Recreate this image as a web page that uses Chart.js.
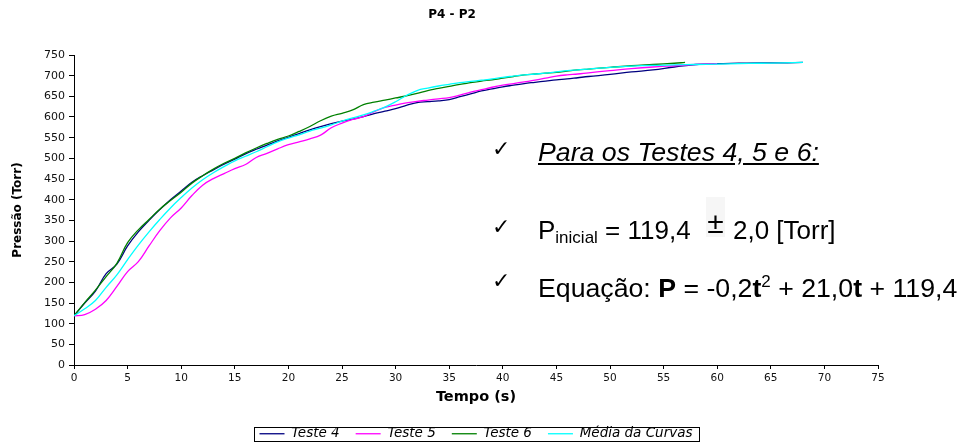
<!DOCTYPE html>
<html>
<head>
<meta charset="utf-8">
<script src="https://cdn.jsdelivr.net/npm/chart.js@4.4.1/dist/chart.umd.min.js"></script>
<style>
  html, body { margin: 0; padding: 0; background: #fff; }
  #wrap { position: relative; width: 964px; height: 446px; overflow: hidden; }
  #wrap canvas { position: absolute; left: 0; top: 0; }
  .note { position: absolute; font-family: "Liberation Sans", Arial, sans-serif; font-size: 26px; line-height: 26px; color: #000; white-space: nowrap; }
  .check { position: absolute; left: 492px; font-family: "DejaVu Sans", sans-serif; font-size: 22px; line-height: 22px; color: #000; }
  .sub { font-size: 17px; vertical-align: -4px; }
  .sup { font-size: 17px; vertical-align: 10px; }
  .pm { position: absolute; left: 706px; top: 197px; width: 19px; height: 40px; background: #f6f6f6; font-family: "Liberation Sans", Arial, sans-serif; font-size: 30px; line-height: 30px; padding-top: 11px; box-sizing: border-box; text-align: center; }
</style>
</head>
<body>
<div id="wrap">
  <canvas id="myChart" width="964" height="446"></canvas>

  <div class="check" style="top:138px">✓</div>
  <div class="note" style="left:538px; top:139px; font-size:26.7px; font-style:italic; text-decoration:underline;">Para os Testes 4, 5 e 6:</div>

  <div class="check" style="top:216px">✓</div>
  <div class="note" style="left:538px; top:217px">P<span class="sub">inicial</span> = 119,4</div>
  <div class="pm">±</div>
  <div class="note" style="left:733px; top:217px">2,0 [Torr]</div>

  <div class="check" style="top:270px">✓</div>
  <div class="note" style="left:538px; top:269px; font-size:26.7px;">Equação: <b>P</b> = -0,2<b>t</b><span class="sup">2</span> + 21,0<b>t</b> + 119,4</div>
</div>

<script>
// series: time (s) and pressure (Torr) for each test
const tempoTeste4 = [0,1,2,3,4,5,6,7,8,9,10,11,12,13,14,15,16,17,18,19,20,21,22,23,24,25,26,27,28,29,30,31,32,33,34,35,36,37,38,39,40,41,42,43,44,45,46,47,48,50,52,54,56,58,60,62,64,66,68];
const pressaoTeste4 = [119,150,179,221,244,288,322,350,376,400,421,442,458,472,486,498,511,522,532,542,551,560,569,577,584,590,595,601,608,614,620,628,635,637,639,642,649,656,663,668,673,677,681,684,687,690,692,695,698,703,709,714,721,727,729,730,731,731,732];

const tempoTeste5 = [0,1,2,3,4,5,6,7,8,9,10,11,12,13,14,15,16,17,18,19,20,21,22,23,24,25,26,27,28,29,30,31,32,33,34,35,36,37,38,39,40,41,42,43,44,45,46,47,48,50,52,54,56,58,60];
const pressaoTeste5 = [119,122,135,156,190,226,250,288,325,356,380,410,435,451,463,475,485,502,512,523,533,540,547,556,574,585,594,601,613,623,629,634,638,641,644,647,653,660,666,672,677,681,685,689,694,699,702,704,707,712,717,721,724,727,729];

const tempoTeste6 = [0,1,2,3,4,5,6,7,8,9,10,11,12,13,14,15,16,17,18,19,20,21,22,23,24,25,26,27,28,29,30,31,32,33,34,35,36,37,38,39,40,41,42,43,44,45,46,47,48,50,52,54,56,57];
const pressaoTeste6 = [119,151,181,214,246,296,327,352,377,398,418,440,458,474,488,500,513,525,536,546,554,565,577,591,602,609,617,630,636,641,646,651,657,664,669,674,679,683,687,690,694,698,702,704,706,708,711,714,716,720,724,727,730,732];

const tempoMedia = [0,1,2,3,4,5,6,7,8,9,10,11,12,13,14,15,16,17,18,19,20,21,22,23,24,25,26,27,28,29,30,31,32,33,34,35,36,37,38,39,40,41,42,43,44,45,46,47,48,50,52,54,56,58,60,62,64,66,68];
const pressaoMedia = [119,136,156,188,218,255,290,322,352,380,405,428,448,465,480,494,505,516,528,540,549,557,566,573,581,590,598,605,614,624,637,652,664,670,675,679,683,686,689,692,696,699,702,704,706,709,712,714,716,720,723,725,726,727,728,729,730,731,732];

const nomesSeries = ['Teste 4', 'Teste 5', 'Teste 6', 'Média da Curvas'];
const coresSeries = ['#000080', '#ff00ff', '#008000', '#00ffff'];
const tituloGrafico = 'P4 - P2';
const tituloX = 'Tempo (s)';
const tituloY = 'Pressão (Torr)';

function toPoints(tempo, pressao) {
    return tempo.map((t, i) => ({ x: t, y: pressao[i] }));
}

const series = [
    toPoints(tempoTeste4, pressaoTeste4),
    toPoints(tempoTeste5, pressaoTeste5),
    toPoints(tempoTeste6, pressaoTeste6),
    toPoints(tempoMedia, pressaoMedia)
];

// later series sit on top, like the spreadsheet drew them
const datasets = series.map((pts, i) => ({
    label: nomesSeries[i],
    data: pts,
    borderColor: coresSeries[i],
    backgroundColor: coresSeries[i],
    borderWidth: 1.3,
    pointRadius: 0,
    tension: 0.4,
    fill: false,
    order: series.length - i
}));

// chart title drawn a bit left of the plot centre
const chartTitle = {
    id: 'chartTitle',
    afterDraw(chart) {
        const c = chart.ctx;
        c.save();
        c.font = 'bold 12px "DejaVu Sans"';
        c.fillStyle = '#000';
        c.textAlign = 'center';
        c.textBaseline = 'middle';
        c.fillText(tituloGrafico, 452, 15);
        c.restore();
    }
};

// thin frame round the legend
const legendBorder = {
    id: 'legendBorder',
    afterDraw(chart) {
        const boxes = chart.legend && chart.legend.legendHitBoxes;
        if (!boxes || !boxes.length) return;
        const left = Math.min(...boxes.map(b => b.left)) - 6;
        const right = Math.max(...boxes.map(b => b.left + b.width)) + 6;
        const mid = boxes[0].top + boxes[0].height / 2;
        const c = chart.ctx;
        c.save();
        c.strokeStyle = '#000';
        c.lineWidth = 1;
        c.strokeRect(Math.round(left) + 0.5, Math.round(mid - 7) + 0.5, Math.round(right - left), 14);
        c.restore();
    }
};

const ctx = document.getElementById('myChart').getContext('2d');
const myChart = new Chart(ctx, {
    type: 'line',
    data: { datasets: datasets },
    plugins: [chartTitle, legendBorder],
    options: {
        responsive: false,
        animation: false,
        layout: { padding: { top: 55, left: 0, right: 86, bottom: 4 } },
        scales: {
            x: {
                type: 'linear',
                min: 0,
                max: 75,
                afterFit: (scale) => { scale.height = 46; },
                ticks: { stepSize: 5, color: '#111', padding: 3, maxRotation: 0, font: { family: 'DejaVu Sans', size: 10.5 } },
                grid: { drawOnChartArea: false, drawTicks: true, tickLength: 4, color: '#000' },
                border: { color: '#000', width: 1 },
                title: { display: true, text: tituloX, color: '#000', padding: { top: 4, bottom: 5 }, font: { family: 'DejaVu Sans', size: 14.5, weight: 'bold' } }
            },
            y: {
                min: 0,
                max: 750,
                afterFit: (scale) => { scale.width = 74; },
                ticks: { stepSize: 50, color: '#111', padding: 4, font: { family: 'DejaVu Sans', size: 11 } },
                grid: { drawOnChartArea: false, drawTicks: true, tickLength: 5, color: '#000' },
                border: { color: '#000', width: 1 },
                title: { display: true, text: tituloY, color: '#000', padding: { top: 11, bottom: 0 }, font: { family: 'DejaVu Sans', size: 12, weight: 'bold' } }
            }
        },
        plugins: {
            title: { display: false },
            tooltip: { enabled: false },
            legend: {
                position: 'bottom',
                fullSize: false,
                maxHeight: 31,
                labels: {
                    usePointStyle: true,
                    pointStyle: 'line',
                    pointStyleWidth: 25,
                    padding: 16,
                    color: '#000',
                    font: { family: 'DejaVu Sans', size: 13.5, style: 'italic' },
                    sort: (a, b) => a.datasetIndex - b.datasetIndex
                }
            }
        }
    }
});
</script>
</body>
</html>
